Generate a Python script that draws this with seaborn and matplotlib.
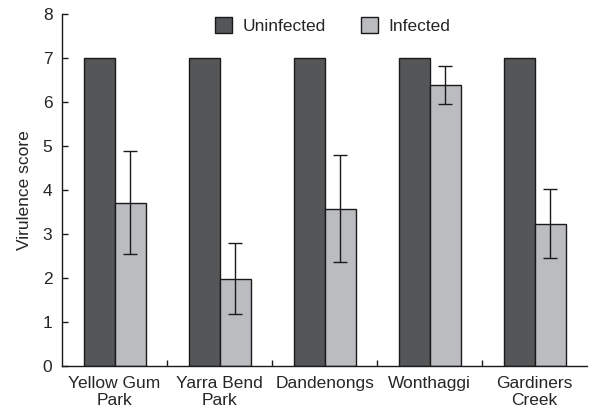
import numpy as np
import pandas as pd
import matplotlib
matplotlib.use("Agg")
import matplotlib.pyplot as plt
import seaborn as sns
from matplotlib.patches import Patch

# data
sites = ["Yellow Gum\nPark", "Yarra Bend\nPark", "Dandenongs", "Wonthaggi", "Gardiners\nCreek"]
uninfected = [7, 7, 7, 7, 7]
infected = [3.71, 1.99, 3.58, 6.39, 3.24]
infected_err = [1.17, 0.81, 1.21, 0.44, 0.78]

groups = ["Uninfected", "Infected"]
colors = ["#555658", "#bbbcc0"]

df = pd.DataFrame({
    "site": sites * 2,
    "status": ["Uninfected"] * len(sites) + ["Infected"] * len(sites),
    "score": uninfected + infected,
})

sns.set_style("ticks")
plt.rcParams["font.family"] = ["Liberation Sans", "DejaVu Sans"]
fs = 12.5

fig, ax = plt.subplots(figsize=(6.09, 4.17), dpi=100)
fig.subplots_adjust(left=0.102, right=0.964, top=0.966, bottom=0.122)

sns.barplot(data=df, x="site", y="score", hue="status", hue_order=groups,
            palette=colors, width=0.59, errorbar=None, edgecolor="#1a1a1a",
            linewidth=1.0, saturation=1, legend=False, ax=ax)

# error bars on the infected bars only
xs = [p.get_x() + p.get_width() / 2 for p in ax.containers[1]]
ax.errorbar(xs, infected, yerr=infected_err, fmt="none", ecolor="#1a1a1a",
            elinewidth=1.0, capsize=5, capthick=1.0)

ax.set_xlim(-0.5, len(sites) - 0.5)
ax.set_ylim(0, 8)
ax.set_yticks(range(0, 9))
ax.set_xlabel("")
ax.set_ylabel("Virulence score", fontsize=fs, labelpad=8)

ax.tick_params(axis="x", which="major", length=0, labelsize=fs, pad=7)
ax.set_xticks(np.arange(0.5, len(sites) - 0.5), minor=True)
ax.tick_params(axis="x", which="minor", direction="in", length=4, width=1, color="#1a1a1a")
ax.tick_params(axis="y", direction="in", length=4, width=1, labelsize=fs,
               color="#1a1a1a", pad=7)

for s in ["left", "bottom"]:
    ax.spines[s].set_color("#1a1a1a")
    ax.spines[s].set_linewidth(1.0)
sns.despine(ax=ax)

handles = [Patch(facecolor=c, edgecolor="#1a1a1a", linewidth=1.0) for c in colors]
ax.legend(handles, groups, ncol=2, frameon=False, loc="upper center",
          bbox_to_anchor=(0.515, 1.035), fontsize=fs, handlelength=1.0,
          handleheight=1.0, columnspacing=2.0, handletextpad=0.6)

fig.savefig("out.png", dpi=100)
